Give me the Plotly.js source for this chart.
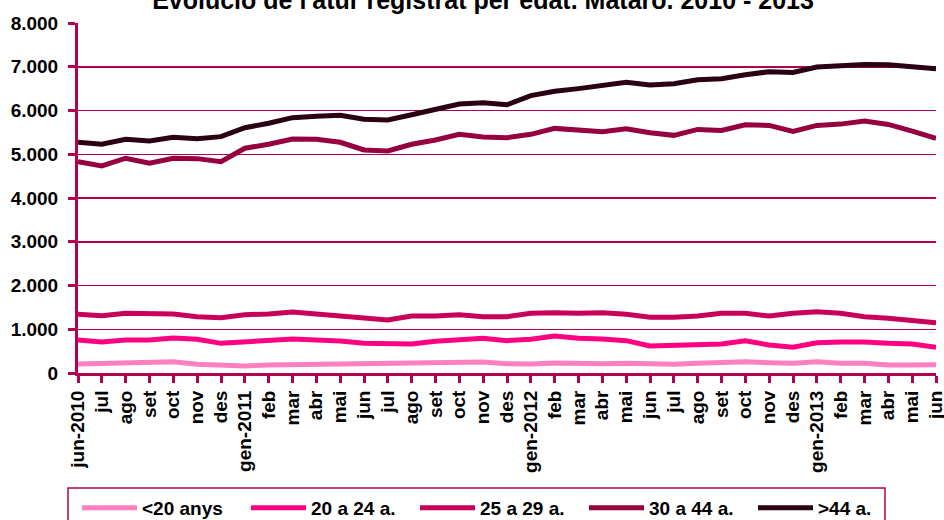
<!DOCTYPE html>
<html>
<head>
<meta charset="utf-8">
<script src="https://cdn.plot.ly/plotly-3.0.1.min.js"></script>
<style>html,body{margin:0;padding:0;background:#fff;}#chart{width:944px;height:520px;}</style>
</head>
<body>
<div id="chart"></div>
<script>
const months = ["jun-2010","jul","ago","set","oct","nov","des","gen-2011","feb","mar","abr","mai",
  "jun","jul","ago","set","oct","nov","des","gen-2012","feb","mar","abr","mai",
  "jun","jul","ago","set","oct","nov","des","gen-2013","feb","mar","abr","mai","jun"];

const seriesNames = ["<20 anys","20 a 24 a.","25 a 29 a.","30 a 44 a.",">44 a."];

const under20 = [206,221,236,251,259,198,175,160,183,190,183,183,198,206,206,221,221,251,213,
  206,229,213,213,221,198,198,221,236,259,236,221,259,221,221,183,183,190];
const age20to24 = [754,709,754,754,800,770,678,709,747,777,754,731,678,663,663,724,770,792,739,
  770,846,792,777,739,617,640,640,663,739,640,587,693,709,709,678,663,587];
const age25to29 = [1342,1310,1364,1364,1349,1287,1265,1333,1349,1395,1349,1318,1257,1211,1303,1303,1333,1287,1287,
  1364,1379,1364,1379,1341,1273,1273,1303,1364,1364,1303,1364,1402,1364,1287,1250,1196,1150];
const age30to44 = [4831,4733,4909,4794,4909,4900,4831,5137,5229,5346,5342,5274,5098,5075,5228,5326,5457,5395,5379,
  5455,5591,5545,5515,5583,5492,5432,5568,5545,5674,5659,5523,5659,5689,5758,5682,5530,5364];
const over44 = [5274,5228,5342,5304,5388,5356,5402,5607,5708,5836,5868,5890,5800,5783,5904,6034,6148,6178,6130,
  6341,6439,6500,6568,6644,6583,6614,6705,6727,6818,6886,6871,6992,7023,7053,7045,7008,6955];

const seriesValues = [under20, age20to24, age25to29, age30to44, over44];
const seriesColors = ["#ff80c0","#ff0080","#c8005a","#960040","#2a0012"];

const yTicks = [0,1000,2000,3000,4000,5000,6000,7000,8000];

const FONT = "'Liberation Sans', Arial, sans-serif";
const AXIS = "#b3004f";
const xIdx = months.map((m, i) => i);

const traces = seriesValues.map((vals, k) => ({
  type: "scatter",
  mode: "lines",
  name: seriesNames[k],
  x: xIdx,
  y: vals,
  line: {color: seriesColors[k], width: 5},
  hoverinfo: "skip"
}));

// plot area in pixels: x 78..936, y 23..373
const W = 944, H = 520, L = 78, R = 8, T = 23, B = 147;
const pw = W - L - R, ph = H - T - B;
const px = v => (v - L) / pw;
const py = v => (H - B - v) / ph;

const layout = {
  width: W, height: H,
  paper_bgcolor: "#fff", plot_bgcolor: "#fff",
  separators: ",.",
  margin: {l: L, r: R, t: T, b: B},
  showlegend: true,
  title: {
    text: "Evolució de l'atur registrat per edat. Mataró. 2010 - 2013",
    font: {family: FONT, size: 25, color: "#000", weight: "bold"},
    xref: "container", x: 483/W, xanchor: "center",
    yref: "container", y: 1, yanchor: "middle"
  },
  xaxis: {
    range: [0, 36],
    tickmode: "array",
    tickvals: xIdx,
    ticktext: months,
    tickangle: -90,
    ticklabeloverflow: "allow",
    tickfont: {family: FONT, size: 19, color: "#000", weight: "bold"},
    ticks: "outside", ticklen: 7, tickwidth: 3, tickcolor: AXIS,
    showline: true, linecolor: AXIS, linewidth: 3,
    showgrid: false, zeroline: false, fixedrange: true
  },
  yaxis: {
    range: [0, 8000],
    tickmode: "array",
    tickvals: yTicks,
    tickformat: ",d",
    tickfont: {family: FONT, size: 19, color: "#000", weight: "bold"},
    ticks: "outside", ticklen: 7, tickwidth: 3, tickcolor: AXIS,
    ticklabelstandoff: 6,
    showline: true, linecolor: AXIS, linewidth: 3,
    showgrid: true, gridcolor: AXIS, gridwidth: 1.5,
    zeroline: false, fixedrange: true
  },
  shapes: [{
    type: "rect", xref: "paper", yref: "paper",
    x0: px(68), x1: px(885), y0: py(488), y1: py(540),
    line: {color: AXIS, width: 1.5}, fillcolor: "rgba(0,0,0,0)", layer: "above"
  }],
  legend: {
    orientation: "h",
    xref: "container", yref: "container",
    x: 77/W, xanchor: "left",
    y: 1 - 489/H, yanchor: "top",
    bgcolor: "rgba(0,0,0,0)", borderwidth: 0,
    font: {family: FONT, size: 19, color: "#000", weight: "bold"},
    entrywidth: 99, entrywidthmode: "pixels",
    itemwidth: 55,
    traceorder: "normal"
  }
};

Plotly.newPlot("chart", traces, layout, {staticPlot: true, displayModeBar: false});
</script>
</body>
</html>
